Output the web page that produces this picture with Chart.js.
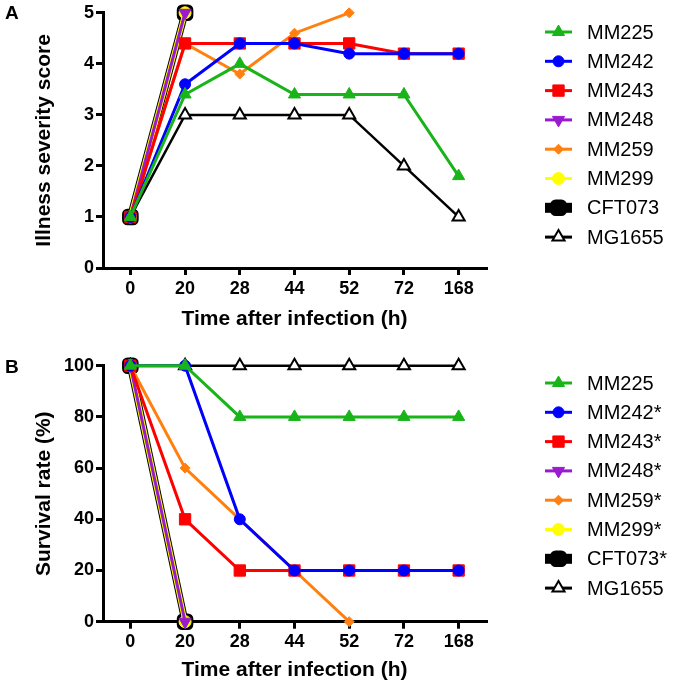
<!DOCTYPE html>
<html>
<head>
<meta charset="utf-8">
<script src="https://cdn.jsdelivr.net/npm/chart.js@4.4.1/dist/chart.umd.min.js"></script>
<style>
  html, body { margin: 0; padding: 0; background: #fff; }
  #wrap { position: relative; width: 675px; height: 687px; overflow: hidden; }
  canvas { position: absolute; left: 0; }
</style>
</head>
<body>
<div id="wrap">
  <canvas id="cA" width="675" height="340" style="top:0;width:675px;height:340px"></canvas>
  <canvas id="cB" width="675" height="347" style="top:340px;width:675px;height:347px"></canvas>
</div>
<script>
// ---- Data ----
const timeLabels = ['0', '20', '28', '44', '52', '72', '168'];

const strainsA = ['MM225', 'MM242', 'MM243', 'MM248', 'MM259', 'MM299', 'CFT073', 'MG1655'];
const strainsB = ['MM225', 'MM242*', 'MM243*', 'MM248*', 'MM259*', 'MM299*', 'CFT073*', 'MG1655'];

// Panel A: illness severity score
const sevMM225  = [1, 3.4, 4.0, 3.4, 3.4, 3.4, 1.8];
const sevMM242  = [1, 3.6, 4.4, 4.4, 4.2, 4.2, 4.2];
const sevMM243  = [1, 4.4, 4.4, 4.4, 4.4, 4.2, 4.2];
const sevMM248  = [1, 5, null, null, null, null, null];
const sevMM259  = [1, 4.4, 3.8, 4.6, 5.0, null, null];
const sevMM299  = [1, 5, null, null, null, null, null];
const sevCFT073 = [1, 5, null, null, null, null, null];
const sevMG1655 = [1, 3, 3, 3, 3, 2, 1];

// Panel B: survival rate (%)
const surMM225  = [100, 100, 80, 80, 80, 80, 80];
const surMM242  = [100, 100, 40, 20, 20, 20, 20];
const surMM243  = [100, 40, 20, 20, 20, 20, 20];
const surMM248  = [100, 0, null, null, null, null, null];
const surMM259  = [100, 60, 40, 20, 0, null, null];
const surMM299  = [100, 0, null, null, null, null, null];
const surCFT073 = [100, 0, null, null, null, null, null];
const surMG1655 = [100, 100, 100, 100, 100, 100, 100];

const sevTicks = [0, 1, 2, 3, 4, 5];
const surTicks = [0, 20, 40, 60, 80, 100];

// ---- Styles ----
const FONT = "'Liberation Sans', Arial, Helvetica, sans-serif";
Chart.defaults.color = '#000';
Chart.defaults.font.family = FONT;

const styles = [
  { color: '#19b419', fill: '#19b419', pointStyle: 'triangle', radius: 7, rotation: 0, lw: 3, pbw: 1 },
  { color: '#0000ff', fill: '#0000ff', pointStyle: 'circle', radius: 5.5, rotation: 0, lw: 3, pbw: 1 },
  { color: '#ff0000', fill: '#ff0000', pointStyle: 'rect', radius: 8, rotation: 0, lw: 3, pbw: 1 },
  { color: '#9a1ad0', fill: '#9a1ad0', pointStyle: 'triangle', radius: 7, rotation: 180, lw: 3, pbw: 1 },
  { color: '#ff8010', fill: '#ff8010', pointStyle: 'rectRot', radius: 5, rotation: 0, lw: 3, pbw: 1 },
  { color: '#ffff00', fill: '#ffff00', pointStyle: 'circle', radius: 6, rotation: 0, lw: 5, pbw: 1 },
  { color: '#000000', fill: '#000000', pointStyle: 'rectRounded', radius: 8.5, rotation: 0, lw: 7, pbw: 2 },
  { color: '#000000', fill: '#ffffff', pointStyle: 'triangle', radius: 7, rotation: 0, lw: 2.5, pbw: 2 }
];

function makeDatasets(names, series) {
  return names.map((n, i) => {
    const s = styles[i];
    return {
      label: n,
      data: series[i],
      borderColor: s.color,
      backgroundColor: s.fill,
      borderWidth: s.lw,
      pointStyle: s.pointStyle,
      pointRadius: s.radius,
      pointRotation: s.rotation,
      pointBackgroundColor: s.fill,
      pointBorderColor: s.color,
      pointBorderWidth: s.pbw,
      tension: 0,
      spanGaps: false,
      clip: false
    };
  });
}

function legendPlugin(y0, step, letter, letterY) {
  return {
    id: 'customLegend',
    afterDraw(chart) {
      const ctx = chart.ctx;
      ctx.save();
      chart.data.datasets.forEach((ds, i) => {
        const s = styles[i];
        const y = y0 + i * step;
        ctx.beginPath();
        ctx.strokeStyle = s.color;
        ctx.lineWidth = s.lw === 7 ? 10 : 3;
        ctx.moveTo(545, y);
        ctx.lineTo(572, y);
        ctx.stroke();
        ctx.fillStyle = s.fill;
        ctx.strokeStyle = s.color;
        ctx.lineWidth = s.pbw;
        Chart.helpers.drawPoint(ctx, {
          pointStyle: s.pointStyle,
          radius: s.radius,
          rotation: s.rotation,
          borderWidth: s.pbw
        }, 558.5, y);
        ctx.fillStyle = '#000';
        ctx.font = "20px " + FONT;
        ctx.textBaseline = 'middle';
        ctx.textAlign = 'left';
        ctx.fillText(ds.label, 587, y + 1);
      });
      ctx.font = "bold 19px " + FONT;
      ctx.textBaseline = 'alphabetic';
      ctx.fillStyle = '#000';
      ctx.fillText(letter, 5, letterY);
      ctx.restore();
    }
  };
}

function makeChart(id, names, series, yMin, yMax, step, yTitle, padTop, xHeight, xTitlePad, legY0, letter, letterY) {
  return new Chart(document.getElementById(id), {
    type: 'line',
    data: { labels: timeLabels, datasets: makeDatasets(names, series) },
    options: {
      responsive: false,
      devicePixelRatio: 1,
      animation: false,
      events: [],
      layout: { padding: { top: padTop, right: 189, left: 0, bottom: 0 } },
      plugins: { legend: { display: false }, tooltip: { enabled: false } },
      scales: {
        x: {
          type: 'category',
          offset: true,
          grid: { display: true, offset: false, drawOnChartArea: false, drawTicks: true, tickLength: 7, lineWidth: 3, color: '#000' },
          border: { display: true, color: '#000', width: 3 },
          ticks: { font: { size: 18, weight: 'bold', family: FONT }, color: '#000', padding: 3, maxRotation: 0 },
          title: { display: true, text: 'Time after infection (h)', font: { size: 21, weight: 'bold', family: FONT }, color: '#000', padding: { top: 0, bottom: xTitlePad } },
          afterFit(scale) { scale.height = xHeight; }
        },
        y: {
          min: yMin, max: yMax,
          grid: { display: true, drawOnChartArea: false, drawTicks: true, tickLength: 7, lineWidth: 3, color: '#000' },
          border: { display: true, color: '#000', width: 3 },
          ticks: { stepSize: step, font: { size: 18, weight: 'bold', family: FONT }, color: '#000', padding: 2 },
          title: { display: true, text: yTitle, font: { size: 21, weight: 'bold', family: FONT }, color: '#000', padding: { top: 32, bottom: 0 } },
          afterFit(scale) { scale.width = 103; }
        }
      }
    },
    plugins: [legendPlugin(legY0, 29.3, letter, letterY)]
  });
}

makeChart('cA', strainsA,
  [sevMM225, sevMM242, sevMM243, sevMM248, sevMM259, sevMM299, sevCFT073, sevMG1655],
  sevTicks[0], sevTicks[sevTicks.length - 1], 1, 'Illness severity score',
  12, 72, 8, 32, 'A', 19);

makeChart('cB', strainsB,
  [surMM225, surMM242, surMM243, surMM248, surMM259, surMM299, surCFT073, surMG1655],
  surTicks[0], surTicks[surTicks.length - 1], 20, 'Survival rate (%)',
  25.7, 65.3, 4.5, 43, 'B', 33);
</script>
</body>
</html>
